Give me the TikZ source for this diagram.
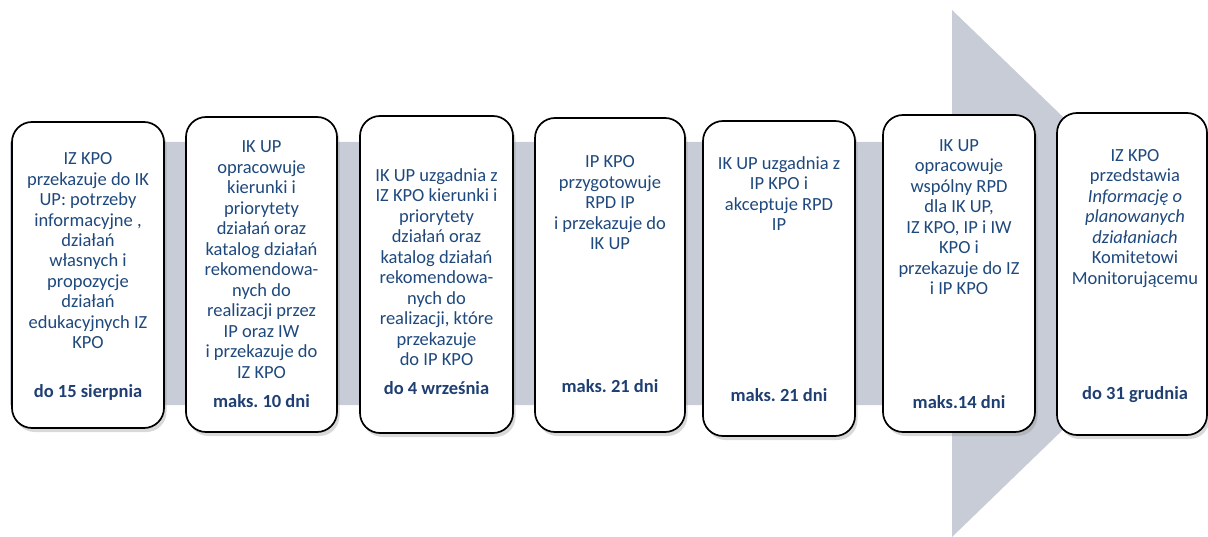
\documentclass[tikz,border=0pt]{standalone}
\usepackage{fontspec}
\setmainfont{Carlito}
\usetikzlibrary{shadows}
\definecolor{txtblue}{HTML}{1F497D}
\definecolor{boldblue}{HTML}{1F3F73}
\definecolor{arrowgray}{HTML}{C8CCD6}
\frenchspacing
\tikzset{
  stepbox/.style={draw=black, line width=1.7pt, fill=white, rounded corners=20pt,
    inner sep=0pt, drop shadow={shadow xshift=2.5pt, shadow yshift=-4pt, opacity=0.3}},
  steptext/.style={anchor=north, align=center, inner sep=0pt, text=txtblue,
    font=\fontsize{18.5}{20.5}\selectfont\frenchspacing},
  stepdate/.style={anchor=base, inner sep=0pt, text=boldblue,
    font=\fontsize{18.5}{20.5}\selectfont\bfseries\frenchspacing},
  bigarrow/.style={fill=arrowgray},
}
\newcommand{\fst}{\rule{0pt}{14pt}}
\begin{document}
\begin{tikzpicture}[x=1pt,y=-1pt]
\path[use as bounding box] (0,0) rectangle (1208,537);
\begin{scope}
\clip (0,0) rectangle (1208,537);
\fill[bigarrow] (10,142) -- (952,142) -- (952,10) -- (1225,273) -- (952,537) -- (952,405) -- (10,405) -- cycle;
\end{scope}

\node[stepbox, minimum width=152pt, minimum height=306pt] (box1) at (88,275) {};
\node[stepbox, minimum width=151pt, minimum height=315pt] (box2) at (261.5,274.5) {};
\node[stepbox, minimum width=153pt, minimum height=317pt] (box3) at (436.5,274.5) {};
\node[stepbox, minimum width=150pt, minimum height=314pt] (box4) at (610,275) {};
\node[stepbox, minimum width=152pt, minimum height=315pt] (box5) at (779,278.5) {};
\node[stepbox, minimum width=152pt, minimum height=317pt] (box6) at (959,273.5) {};
\node[stepbox, minimum width=150pt, minimum height=322pt] (box7) at (1132,274) {};

\node[steptext] (t1) at (88,150.3) {\fst IZ KPO\\przekazuje do IK\\UP: potrzeby\\informacyjne ,\\działań\\własnych i\\propozycje\\działań\\edukacyjnych IZ\\KPO};
\node[steptext] (t2) at (261.5,138.7) {\fst IK UP\\opracowuje\\kierunki i\\priorytety\\działań oraz\\katalog działań\\rekomendowa-\\nych do\\realizacji przez\\IP oraz IW\\i przekazuje do\\IZ KPO};
\node[steptext] (t3) at (436.5,167) {\fst IK UP uzgadnia z\\IZ KPO kierunki i\\priorytety\\działań oraz\\katalog działań\\rekomendowa-\\nych do\\realizacji, które\\przekazuje\\do IP KPO};
\node[steptext] (t4) at (610,153.7) {\fst IP KPO\\przygotowuje\\RPD IP\\i przekazuje do\\IK UP};
\node[steptext] (t5) at (779,155.3) {\fst IK UP uzgadnia z\\IP KPO i\\akceptuje RPD\\IP};
\node[steptext] (t6) at (959,137) {\fst IK UP\\opracowuje\\wspólny RPD\\dla IK UP,\\IZ KPO, IP i IW\\KPO i\\przekazuje do IZ\\i IP KPO};
\node[steptext] (t7) at (1135,147) {\fst IZ KPO\\przedstawia\\\textit{Informację o}\\\textit{planowanych}\\\textit{działaniach}\\Komitetowi\\Monitorującemu};

\node[stepdate] (d1) at (88,398) {do 15 sierpnia};
\node[stepdate] (d2) at (261.5,407.7) {maks. 10 dni};
\node[stepdate] (d3) at (436.5,394.3) {do 4 września};
\node[stepdate] (d4) at (610,392.7) {maks. 21 dni};
\node[stepdate] (d5) at (779,401) {maks. 21 dni};
\node[stepdate] (d6) at (959,409) {maks.14 dni};
\node[stepdate] (d7) at (1135,399.3) {do 31 grudnia};
\end{tikzpicture}
\end{document}
